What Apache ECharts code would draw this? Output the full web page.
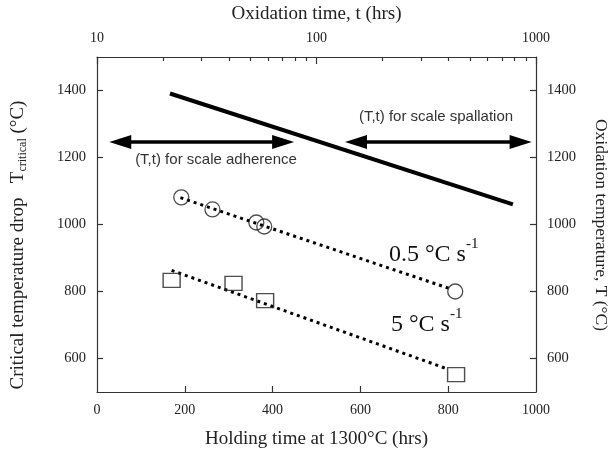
<!DOCTYPE html>
<html><head><meta charset="utf-8">
<script src="https://cdn.jsdelivr.net/npm/echarts@6/dist/echarts.min.js"></script>
<style>html,body{margin:0;padding:0;background:#fff}#c{width:610px;height:455px}</style>
</head><body><div id="c"></div>
<script>
// Tick labels
const holdTicks = [0, 200, 400, 600, 800, 1000];
const tempTicks = [600, 800, 1000, 1200, 1400];
const oxTimeMajor = [10, 100, 1000];
const oxTimeMinor = [20, 30, 40, 50, 60, 70, 80, 90, 200, 300, 400, 500, 600, 700, 800, 900];
// 0.5 °C/s data (circles)
const slowHold = [192, 263, 363, 381, 816];
const slowTemp = [1081, 1045, 1006, 994, 800];
const slowFitHold = [190, 805];
const slowFitTemp = [1080, 808];
// 5 °C/s data (squares)
const fastHold = [170, 311, 383, 818];
const fastTemp = [833, 824, 773, 552];
const fastFitHold = [170, 800];
const fastFitTemp = [863, 568];
// oxidation boundary (top/right axes)
const oxTime = [21.5, 785];
const oxTemp = [1391, 1060];
// arrows (holding-time / temperature coords, line ends before the heads)
const adhereArrowX = [53, 424];
const spallArrowX = [590, 965];
const arrowTemp = 1246;

const serif = 'Liberation Serif';
const sans = 'Liberation Sans';
const ink = '#222';
const zip = (a, b) => a.map((v, i) => [v, b[i]]);
const lg = v => Math.log10(v);
const plain = v => String(v);

const chart = echarts.init(document.getElementById('c'));
chart.setOption({
  animation: false,
  backgroundColor: '#fff',
  grid: { left: 97, right: 74, top: 54, bottom: 63, containLabel: false },
  xAxis: [
    {
      type: 'value', position: 'bottom', min: 0, max: 1000, interval: 200,
      name: 'Holding time at 1300°C (hrs)', nameLocation: 'middle', nameGap: 38,
      nameTextStyle: { fontFamily: serif, fontSize: 19, color: ink },
      axisLine: { show: true, lineStyle: { color: '#333', width: 1.2 } },
      axisTick: { show: true, inside: true, length: 6, customValues: holdTicks.slice(1, -1), lineStyle: { color: '#333', width: 1.2 } },
      axisLabel: { customValues: holdTicks, formatter: plain, fontFamily: serif, fontSize: 14, color: ink, margin: 11 },
      splitLine: { show: false }
    },
    {
      type: 'value', position: 'top', min: 1, max: 3, interval: 1,
      name: 'Oxidation time, t (hrs)', nameLocation: 'middle', nameGap: 33,
      nameTextStyle: { fontFamily: serif, fontSize: 19, color: ink },
      axisLine: { show: true, lineStyle: { color: '#333', width: 1.2 } },
      axisTick: { show: true, inside: true, length: 7, customValues: oxTimeMajor.map(lg), lineStyle: { color: '#333', width: 1.2 } },
      axisLabel: { customValues: oxTimeMajor.map(lg), formatter: v => String(Math.round(Math.pow(10, v))), fontFamily: serif, fontSize: 14, color: ink, margin: 12 },
      splitLine: { show: false }
    },
    {
      type: 'value', position: 'top', min: 1, max: 3, interval: 1,
      axisLine: { show: false },
      axisTick: { show: true, inside: true, length: 4, customValues: oxTimeMinor.map(lg), lineStyle: { color: '#333', width: 1.2 } },
      axisLabel: { show: false },
      splitLine: { show: false }
    }
  ],
  yAxis: [
    {
      type: 'value', position: 'left', min: 500, max: 1500, interval: 100,
      axisLine: { show: true, lineStyle: { color: '#333', width: 1.2 } },
      axisTick: { show: true, inside: true, length: 6, customValues: tempTicks, lineStyle: { color: '#333', width: 1.2 } },
      axisLabel: { customValues: tempTicks, formatter: plain, fontFamily: serif, fontSize: 14.5, color: ink, margin: 11 },
      splitLine: { show: false }
    },
    {
      type: 'value', position: 'right', min: 500, max: 1500, interval: 100,
      axisLine: { show: true, lineStyle: { color: '#333', width: 1.2 } },
      axisTick: { show: true, inside: true, length: 6, customValues: tempTicks, lineStyle: { color: '#333', width: 1.2 } },
      axisLabel: { customValues: tempTicks, formatter: plain, fontFamily: serif, fontSize: 14.5, color: ink, margin: 11 },
      splitLine: { show: false }
    }
  ],
  series: [
    {
      type: 'line', xAxisIndex: 1, yAxisIndex: 1, data: zip(oxTime.map(lg), oxTemp),
      symbol: 'none', lineStyle: { color: '#000', width: 4 }, z: 3
    },
    {
      type: 'line', data: zip(slowFitHold, slowFitTemp),
      symbol: 'none', lineStyle: { color: '#000', width: 3, type: [3, 4] }, z: 2
    },
    {
      type: 'line', data: zip(fastFitHold, fastFitTemp),
      symbol: 'none', lineStyle: { color: '#000', width: 3, type: [3, 4] }, z: 2
    },
    {
      type: 'scatter', data: zip(slowHold, slowTemp), symbol: 'circle', symbolSize: 15,
      itemStyle: { color: 'rgba(0,0,0,0)', borderColor: '#222', borderWidth: 1.3 }, z: 4
    },
    {
      type: 'scatter', data: zip(fastHold, fastTemp), symbol: 'rect', symbolSize: [17, 14],
      itemStyle: { color: 'rgba(0,0,0,0)', borderColor: '#222', borderWidth: 1.3 }, z: 4,
      markLine: {
        silent: true, symbol: ['triangle', 'triangle'], symbolSize: [14, 22], label: { show: false },
        lineStyle: { color: '#000', width: 3.5, type: 'solid' },
        data: [
          [{ coord: [adhereArrowX[0], arrowTemp] }, { coord: [adhereArrowX[1], arrowTemp] }],
          [{ coord: [spallArrowX[0], arrowTemp] }, { coord: [spallArrowX[1], arrowTemp] }]
        ]
      }
    }
  ],
  graphic: [
    {
      type: 'text', x: 18, y: 245, rotation: Math.PI / 2,
      style: {
        text: '{a|Critical temperature drop   T}{b|critical}{a| (°C)}',
        align: 'center', verticalAlign: 'middle',
        rich: {
          a: { fontFamily: serif, fontSize: 19, fill: ink, lineHeight: 22, verticalAlign: 'middle' },
          b: { fontFamily: serif, fontSize: 12, fill: ink, lineHeight: 22, verticalAlign: 'bottom', padding: [7, 0, 0, 0] }
        }
      }
    },
    {
      type: 'text', x: 601, y: 225, rotation: -Math.PI / 2,
      style: { text: 'Oxidation temperature, T (°C)', align: 'center', verticalAlign: 'middle', fontFamily: serif, fontSize: 17.5, fill: ink }
    },
    {
      type: 'text', x: 216, y: 160,
      style: { text: '(T,t) for scale adherence', align: 'center', verticalAlign: 'middle', fontFamily: sans, fontSize: 15, fill: '#333' }
    },
    {
      type: 'text', x: 436, y: 117,
      style: { text: '(T,t) for scale spallation', align: 'center', verticalAlign: 'middle', fontFamily: sans, fontSize: 15, fill: '#333' }
    },
    {
      type: 'text', x: 389, y: 252,
      style: {
        text: '{a|0.5 °C s}{b|-1}', align: 'left', verticalAlign: 'middle',
        rich: {
          a: { fontFamily: serif, fontSize: 24, fill: '#111', lineHeight: 30, verticalAlign: 'bottom' },
          b: { fontFamily: serif, fontSize: 15, fill: '#111', lineHeight: 30, verticalAlign: 'top' }
        }
      }
    },
    {
      type: 'text', x: 391, y: 322,
      style: {
        text: '{a|5 °C s}{b|-1}', align: 'left', verticalAlign: 'middle',
        rich: {
          a: { fontFamily: serif, fontSize: 24, fill: '#111', lineHeight: 30, verticalAlign: 'bottom' },
          b: { fontFamily: serif, fontSize: 15, fill: '#111', lineHeight: 30, verticalAlign: 'top' }
        }
      }
    }
  ]
});
</script>
</body></html>
